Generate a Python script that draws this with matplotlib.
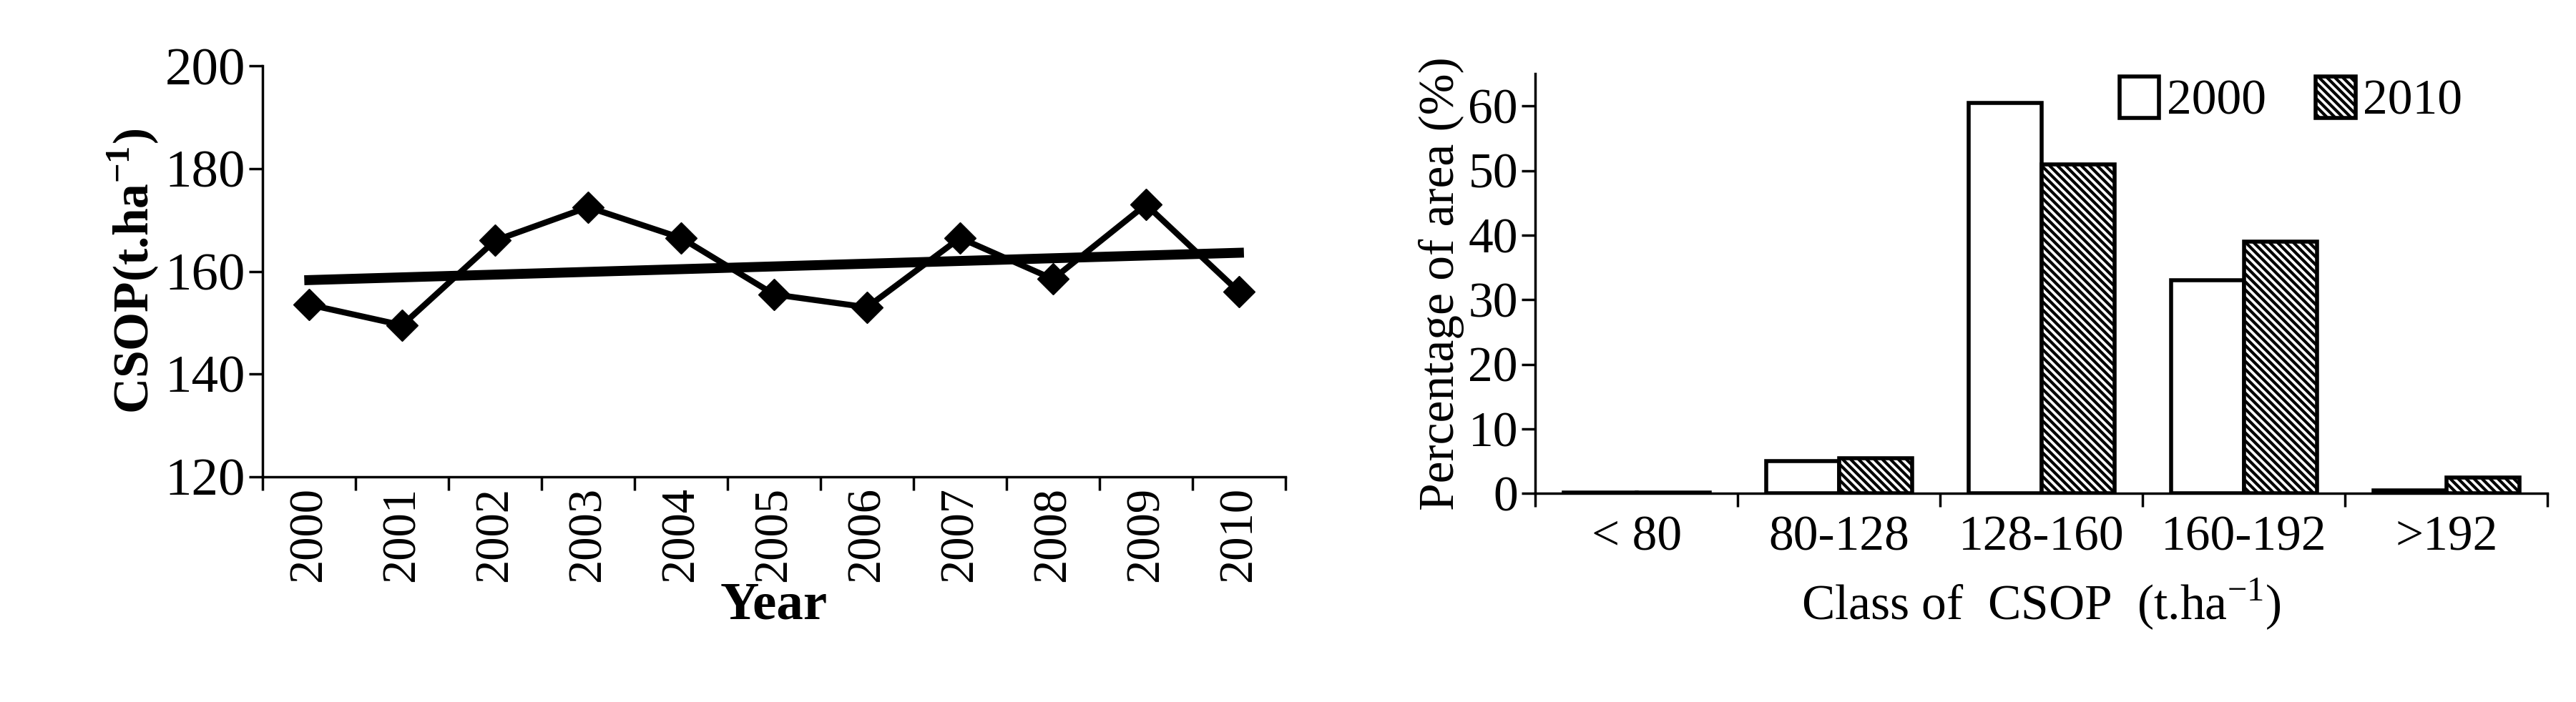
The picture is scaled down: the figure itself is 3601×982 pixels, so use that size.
import matplotlib
matplotlib.use("Agg")
import matplotlib.pyplot as plt
import numpy as np

years = ["2000","2001","2002","2003","2004","2005","2006","2007","2008","2009","2010"]
csop = [153.5,149.5,166,172.5,166.5,155.5,153,166.5,158.5,173,156]
classes = ["< 80","80-128","128-160","160-192",">192"]
pct2000 = [0.2,5,60.5,33,0.5]
pct2010 = [0.2,5.5,51,39,2.5]

plt.rcParams['font.family'] = ['Liberation Serif','DejaVu Serif']
plt.rcParams['mathtext.fontset'] = 'custom'
plt.rcParams['mathtext.rm'] = 'Liberation Serif'
plt.rcParams['mathtext.bf'] = 'Liberation Serif:bold'
fs = 50
fig = plt.figure(figsize=(36.01,9.82), dpi=100)

ax1 = fig.add_axes([0.102,0.321,0.397,0.585])
x = np.arange(len(years))
ax1.plot(x, csop, color='black', lw=6, marker='D', ms=22)
c = np.polyfit(x, csop, 1)
xl = np.array([x[0], x[-1]])
ax1.plot(xl, np.polyval(c, xl), color='black', lw=10)
ax1.set_xlim(-0.5, len(years)-0.5)
ax1.set_ylim(120,200)
ax1.set_yticks([120,140,160,180,200])
ax1.set_xticks(np.arange(-0.5,len(years),1), minor=False, labels=['']*(len(years)+1))
ax1.set_xticks(x, minor=True, labels=years, rotation=90)
ax1.tick_params(axis='x', which='major', length=14, width=2.5, direction='out')
ax1.tick_params(axis='x', which='minor', length=0, labelsize=fs-2, pad=10)
ax1.tick_params(axis='y', length=14, width=2.5, labelsize=fs+4)
for s in ['top','right']:
    ax1.spines[s].set_visible(False)
for s in ['left','bottom']:
    ax1.spines[s].set_linewidth(2.5)
ax1.set_ylabel(r'CSOP(t.ha$^{\mathbf{-1}}$)', fontsize=fs, fontweight='bold')
ax1.set_xlabel('Year', fontsize=fs+4, fontweight='bold', labelpad=0)

ax2 = fig.add_axes([0.596,0.297,0.393,0.598])
xb = np.arange(len(classes))
w = 0.36
plt.rcParams['hatch.linewidth'] = 3
ax2.bar(xb-w/2, pct2000, w, facecolor='white', edgecolor='black', lw=4, label='2000')
ax2.bar(xb+w/2, pct2010, w, facecolor='white', edgecolor='black', lw=4, hatch='\\\\\\', label='2010')
ax2.set_xlim(-0.5, len(classes)-0.5)
ax2.set_ylim(0,65)
ax2.set_yticks(range(0,61,10))
ax2.set_xticks(xb, classes)
ax2.tick_params(axis='x', length=0, labelsize=fs, pad=22)
ax2.tick_params(axis='y', length=14, width=2.5, labelsize=fs)
ax2.set_xticks(np.arange(-0.5,len(classes),1), minor=True)
ax2.tick_params(axis='x', which='minor', length=14, width=2.5)
for s in ['top','right']:
    ax2.spines[s].set_visible(False)
for s in ['left','bottom']:
    ax2.spines[s].set_linewidth(2.5)
ax2.set_ylabel('Percentage of area (%)', fontsize=fs)
ax2.set_xlabel(r'Class of  CSOP  (t.ha$^{-1}$)', fontsize=fs, labelpad=16)
ax2.legend(loc='upper right', bbox_to_anchor=(0.96,1.1), ncol=2, frameon=False, fontsize=fs,
           handlelength=0.8, handleheight=0.9, columnspacing=1.0, handletextpad=0.15)

fig.savefig('out.png', dpi=100)
